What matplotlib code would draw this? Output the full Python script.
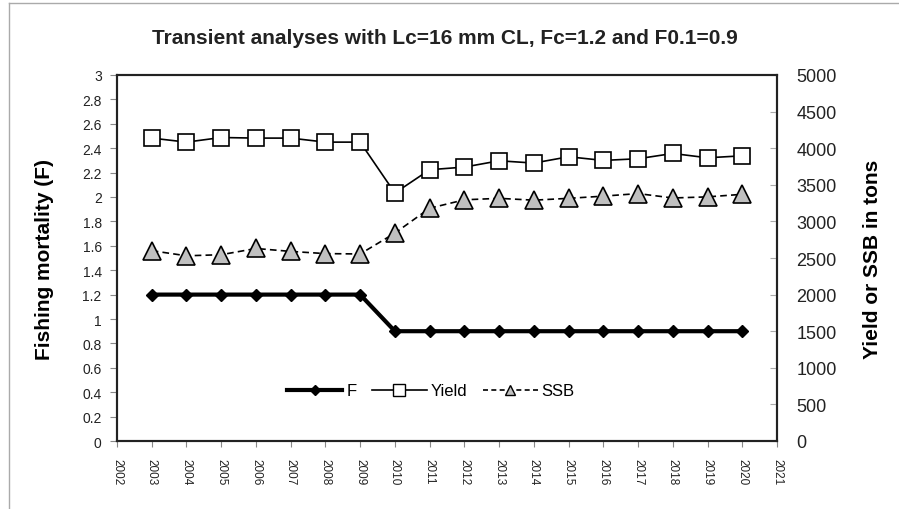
import matplotlib
matplotlib.use("Agg")
import matplotlib.pyplot as plt
from matplotlib.lines import Line2D

plt.rcParams['font.family'] = ['Liberation Sans', 'DejaVu Sans']

years = [2003, 2004, 2005, 2006, 2007, 2008, 2009, 2010, 2011, 2012,
         2013, 2014, 2015, 2016, 2017, 2018, 2019, 2020]
F = [1.2, 1.2, 1.2, 1.2, 1.2, 1.2, 1.2, 0.9, 0.9, 0.9,
     0.9, 0.9, 0.9, 0.9, 0.9, 0.9, 0.9, 0.9]
yield_t = [4138, 4083, 4146, 4138, 4138, 4083, 4083, 3388, 3706, 3742,
           3828, 3797, 3883, 3833, 3856, 3928, 3869, 3896]
ssb_t = [2600, 2530, 2545, 2630, 2590, 2560, 2555, 2840, 3180, 3295,
         3315, 3290, 3315, 3345, 3380, 3320, 3335, 3370]
xticks = list(range(2002, 2022))
left_ticks = [0, 0.2, 0.4, 0.6, 0.8, 1, 1.2, 1.4, 1.6, 1.8, 2, 2.2, 2.4, 2.6, 2.8, 3]
right_ticks = list(range(0, 5001, 500))

fig = plt.figure(figsize=(8.99, 5.10), dpi=100)
ax = fig.add_axes([117/899, 1-442/510, (777-117)/899, (442-76)/510])
ax2 = ax.twinx()

ax.plot(years, F, color='black', lw=3, marker='D', ms=6.5, mfc='black', mec='black', zorder=3)
ax2.plot(years, yield_t, color='black', lw=1.2, marker='s', ms=12, mfc='white', mec='black', mew=1.2, zorder=3)
ax2.plot(years, ssb_t, color='black', lw=1.2, ls=(0, (4, 2.5)), marker='^', ms=12.5, mfc='#c0c0c0', mec='black', mew=1.2, zorder=3)

ax.set_xlim(2002, 2021)
ax.set_ylim(0, 3)
ax2.set_ylim(0, 5000)
ax.set_xticks(xticks)
ax.set_xticklabels([str(x) for x in xticks], rotation=-90, fontsize=8.5, color='#222222')
ax.set_yticks(left_ticks)
ax.set_yticklabels([f"{v:g}" for v in left_ticks], fontsize=10, color='#222222')
ax2.set_yticks(right_ticks)
ax2.set_yticklabels([str(v) for v in right_ticks], fontsize=13, color='#222222')

ax.tick_params(axis='y', direction='out', length=5, width=0.8, color='#888888', pad=6)
ax.tick_params(axis='x', direction='out', length=4, width=0.8, color='#888888', pad=8)
ax2.tick_params(axis='y', direction='in', length=5, width=0.8, color='#aaaaaa', pad=14)

for a in (ax, ax2):
    for s in a.spines.values():
        s.set_linewidth(1.5)
        s.set_color('#222222')

ax.set_ylabel('Fishing mortality (F)', fontsize=15, fontweight='bold', labelpad=20)
ax2.set_ylabel('Yield or SSB in tons', fontsize=15, fontweight='bold', labelpad=19)

fig.text(445/899, 1-38/510, 'Transient analyses with Lc=16 mm CL, Fc=1.2 and F0.1=0.9',
         ha='center', va='center', fontsize=15, fontweight='bold', color='#222222')

handles = [
    Line2D([], [], color='black', lw=3, marker='D', ms=5, mfc='black'),
    Line2D([], [], color='black', lw=1.2, marker='s', ms=8, mfc='white', mec='black'),
    Line2D([], [], color='black', lw=1.2, ls=(0, (3, 2)), marker='^', ms=7, mfc='#c0c0c0', mec='black'),
]
ax2.legend(handles, ['F', 'Yield', 'SSB'], loc='center', bbox_to_anchor=(0.476, 0.137),
           ncol=3, frameon=False, handlelength=3.3, columnspacing=0.9, handletextpad=0.25,
           fontsize=12)

# chart-area border (partially cropped)
fig.add_artist(Line2D([9/899, 1], [1-4/510, 1-4/510], color='#aaaaaa', lw=1, transform=fig.transFigure))
fig.add_artist(Line2D([9/899, 9/899], [0, 1-4/510], color='#aaaaaa', lw=1, transform=fig.transFigure))

fig.savefig('out.png', dpi=100)
